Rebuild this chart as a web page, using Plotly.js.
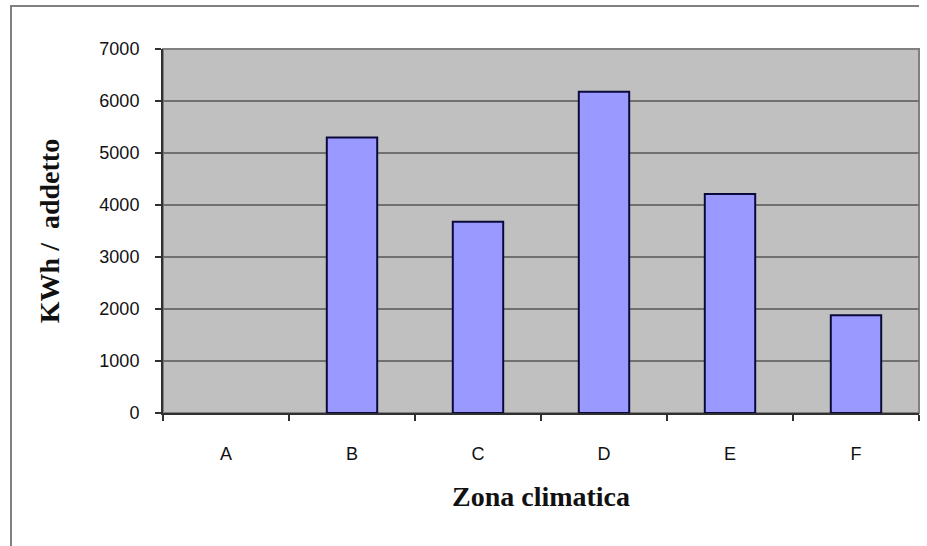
<!DOCTYPE html>
<html>
<head>
<meta charset="utf-8">
<script src="https://cdn.plot.ly/plotly-3.0.1.min.js"></script>
<style>
  html, body { margin: 0; padding: 0; background: #fff; }
  #wrap { position: relative; width: 927px; height: 546px; }
  #chart { position: absolute; left: 0; top: 0; width: 927px; height: 546px; }
  #frame { position: absolute; left: 10px; top: 5px; width: 907px; height: 541px;
           border-top: 2px solid #808080; border-left: 2px solid #808080; pointer-events: none; }
</style>
</head>
<body>
<div id="wrap">
  <div id="chart"></div>
  <div id="frame"></div>
</div>
<script>
const categories = ["A", "B", "C", "D", "E", "F"];
const values = [null, 5300, 3680, 6180, 4210, 1880];
const yTicks = [0, 1000, 2000, 3000, 4000, 5000, 6000, 7000];
const xTitle = "Zona climatica";
const yTitle = "KWh /  addetto";

const trace = {
  type: "bar",
  x: categories,
  y: values,
  marker: { color: "#9999ff", line: { color: "#0a0a3a", width: 2 } },
  hoverinfo: "skip"
};

const layout = {
  width: 927, height: 546,
  margin: { l: 163, r: 8, t: 49, b: 133 },
  paper_bgcolor: "#ffffff",
  plot_bgcolor: "#c0c0c0",
  bargap: 0.6,
  showlegend: false,
  xaxis: {
    type: "category",
    tickson: "boundaries",
    ticks: "outside", ticklen: 6, tickcolor: "#303030", tickwidth: 1.5,
    showline: true, linecolor: "#303030", linewidth: 2,
    showgrid: false, zeroline: false,
    ticklabelstandoff: 23,
    tickfont: { family: "Liberation Sans, Arial, sans-serif", size: 18, color: "#111" },
    title: { text: xTitle, standoff: 24,
             font: { family: "Liberation Serif, Times New Roman, serif", size: 28, color: "#111", weight: "bold" } }
  },
  yaxis: {
    range: [0, 7000],
    tickvals: yTicks,
    ticktext: yTicks.map(String),
    ticks: "outside", ticklen: 6, tickcolor: "#303030", tickwidth: 1.5,
    showline: true, linecolor: "#303030", linewidth: 2,
    showgrid: true, gridcolor: "#707070", gridwidth: 1.5,
    zeroline: false,
    ticklabelstandoff: 12,
    tickfont: { family: "Liberation Sans, Arial, sans-serif", size: 18, color: "#111" },
    title: { text: yTitle, standoff: 32,
             font: { family: "Liberation Serif, Times New Roman, serif", size: 28, color: "#111", weight: "bold" } }
  },
  shapes: [{
    type: "rect", xref: "paper", yref: "paper", x0: 0, x1: 1, y0: 0, y1: 1,
    line: { color: "#808080", width: 2 }, layer: "below"
  }]
};

Plotly.newPlot("chart", [trace], layout, { displayModeBar: false, staticPlot: true });
</script>
</body>
</html>
